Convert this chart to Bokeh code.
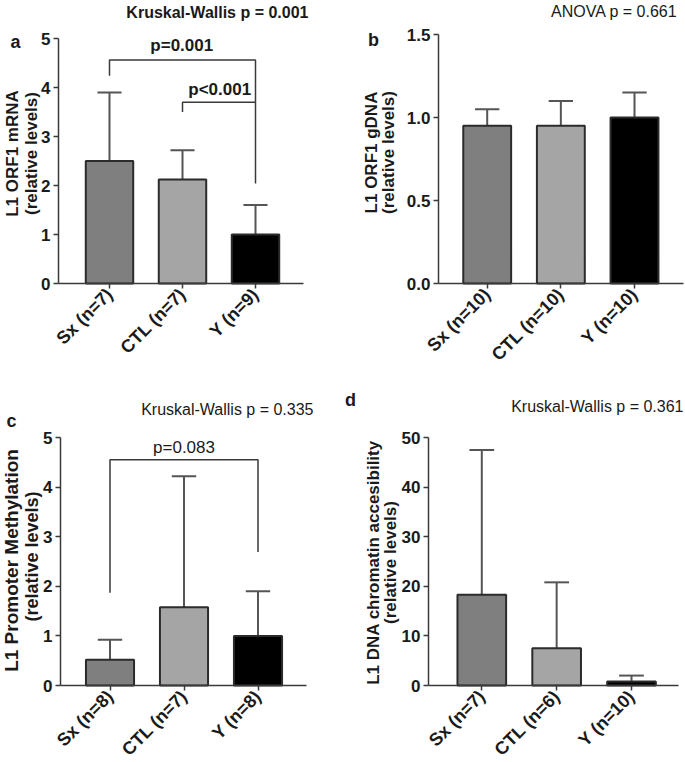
import math
from bokeh.plotting import figure
from bokeh.models import Range1d, FixedTicker, Label, ColumnDataSource, NumeralTickFormatter
from bokeh.layouts import column, row
from bokeh.embed import file_html
from bokeh.resources import INLINE

FONT = "Liberation Sans"
TXT = "#1a1a1a"
AXC = "#3a3a3a"
EDGE = "#2b2b2b"
ERRC = "#555555"
bar_colors = ["#7f7f7f", "#a5a5a5", "#000000"]

# ---- data ----
cats_a = ["Sx (n=7)", "CTL (n=7)", "Y (n=9)"]
mean_a = [2.5, 2.12, 1.0]
upper_a = [3.9, 2.72, 1.6]
brk_a_x = [[0, 0, 2, 2], [1, 1, 2]]
brk_a_y = [[4.24, 4.56, 4.56, 2.04], [3.5, 3.7, 3.7]]
ptxt_a = ["p=0.001", "p<0.001"]
ptxt_a_x = [0.99, 1.51]
ptxt_a_y = [4.86, 3.96]

cats_b = ["Sx (n=10)", "CTL (n=10)", "Y (n=10)"]
mean_b = [0.95, 0.95, 1.0]
upper_b = [1.05, 1.10, 1.15]

cats_c = ["Sx (n=8)", "CTL (n=7)", "Y (n=8)"]
mean_c = [0.52, 1.58, 1.0]
upper_c = [0.92, 4.22, 1.9]
brk_c_x = [[0, 0, 2, 2]]
brk_c_y = [[1.87, 4.55, 4.55, 2.69]]
ptxt_c = ["p=0.083"]
ptxt_c_x = [1.0]
ptxt_c_y = [4.79]

cats_d = ["Sx (n=7)", "CTL (n=6)", "Y (n=10)"]
mean_d = [18.3, 7.5, 0.8]
upper_d = [47.5, 20.8, 2.0]

yticks_a = [0, 1, 2, 3, 4, 5]
yticks_b = [0, 0.5, 1.0, 1.5]
yticks_c = [0, 1, 2, 3, 4, 5]
yticks_d = [0, 10, 20, 30, 40, 50]


class Panel:
    def __init__(self, box, axes_px, ticks_px, cats, means, uppers, yticks, fmt=None):
        ox, oy, w, h = box
        L, T, R, B = axes_px
        t0, t2 = ticks_px
        n = len(cats)
        ymax = yticks[-1]
        kx = (t2 - t0) / (n - 1)
        ky = (B - T) / ymax
        x_start = -(t0 - ox) / kx
        x_end = (n - 1) + (ox + w - t2) / kx
        xa0 = -(t0 - L) / kx
        xa1 = (n - 1) + (R - t2) / kx
        y_start = -(oy + h - B) / ky
        y_end = ymax + (T - oy) / ky
        self.box = box
        p = figure(width=w, height=h, x_range=Range1d(x_start, x_end),
                   y_range=Range1d(y_start, y_end), title=None,
                   output_backend="svg", toolbar_location=None, min_border=0)
        p.outline_line_color = None
        p.grid.visible = False
        p.background_fill_color = "white"
        p.border_fill_color = "white"
        xs = list(range(n))
        src = ColumnDataSource(dict(x=xs, top=means, up=uppers, color=bar_colors[:n],
                                    cl=[x - 0.165 for x in xs], cr=[x + 0.165 for x in xs]))
        p.segment(x0="x", y0="top", x1="x", y1="up", source=src, line_color=ERRC, line_width=2)
        p.segment(x0="cl", y0="up", x1="cr", y1="up", source=src, line_color=ERRC, line_width=2)
        p.vbar(x="x", top="top", width=0.65, bottom=0, fill_color="color", line_color=EDGE,
               line_width=2, source=src)
        for ax in (p.xaxis[0], p.yaxis[0]):
            ax.axis_line_color = AXC
            ax.axis_line_width = 1.5
            ax.major_tick_line_color = AXC
            ax.major_tick_line_width = 1.5
            ax.major_tick_out = 5
            ax.major_tick_in = 0
            ax.minor_tick_line_color = None
            ax.major_label_text_font = FONT
            ax.major_label_text_font_style = "bold"
            ax.major_label_text_font_size = "17px"
            ax.major_label_text_color = TXT
        p.xaxis.ticker = FixedTicker(ticks=xs)
        p.xaxis.major_label_overrides = {i: c for i, c in enumerate(cats)}
        p.xaxis.major_label_orientation = math.pi / 4
        p.xaxis.major_label_text_font_size = "18px"
        p.xaxis.major_label_standoff = 3
        p.xaxis.fixed_location = 0
        p.xaxis.bounds = (xa0, xa1)
        p.yaxis.ticker = FixedTicker(ticks=yticks)
        p.yaxis.major_label_standoff = 3
        p.yaxis.fixed_location = xa0
        p.yaxis.bounds = (0, ymax)
        if fmt:
            p.yaxis.formatter = NumeralTickFormatter(format=fmt)
        self.p = p

    def label(self, px, py, text, bold=True, size="16px", align="center", angle=0.0):
        ox, oy, w, h = self.box
        self.p.add_layout(Label(x=px - ox, y=oy + h - py, x_units="screen", y_units="screen",
                                text=text, text_font=FONT,
                                text_font_style="bold" if bold else "normal",
                                text_font_size=size, text_color=TXT, text_align=align,
                                text_baseline="middle", angle=angle))

    def data_text(self, xs, ys, texts, bold=True):
        for x, y, t in zip(xs, ys, texts):
            self.p.add_layout(Label(x=x, y=y, text=t, text_font=FONT,
                                    text_font_style="bold" if bold else "normal",
                                    text_font_size="17px", text_color=TXT, text_align="center",
                                    text_baseline="middle"))


A = Panel((0, 0, 340, 380), (58, 38, 303, 283), (109, 255), cats_a, mean_a, upper_a, yticks_a)
A.p.multi_line(xs=brk_a_x, ys=brk_a_y, line_color=AXC, line_width=1.5)
A.data_text(ptxt_a_x, ptxt_a_y, ptxt_a, bold=True)
A.label(15, 41, "a", size="18px")
A.label(308, 12, "Kruskal-Wallis p = 0.001", align="right")
A.label(12, 153, "L1 ORF1 mRNA", size="17px", angle=math.pi / 2)
A.label(31, 153, "(relative levels)", size="17px", angle=math.pi / 2)

Bp = Panel((340, 0, 345, 380), (438, 34, 683, 283), (486.7, 634), cats_b, mean_b, upper_b,
           yticks_b, fmt="0.0")
Bp.label(373, 39, "b", size="18px")
Bp.label(677, 11, "ANOVA p = 0.661", bold=False, align="right")
Bp.label(371, 152, "L1 ORF1 gDNA", size="17px", angle=math.pi / 2)
Bp.label(388, 152, "(relative levels)", size="17px", angle=math.pi / 2)

C = Panel((0, 380, 340, 382), (60, 437, 306, 685), (109.5, 257.5), cats_c, mean_c, upper_c,
          yticks_c)
C.p.multi_line(xs=brk_c_x, ys=brk_c_y, line_color=AXC, line_width=1.5)
C.data_text(ptxt_c_x, ptxt_c_y, ptxt_c, bold=False)
C.label(11, 420, "c", size="18px")
C.label(313, 409, "Kruskal-Wallis p = 0.335", bold=False, align="right")
C.label(11, 560, "L1 Promoter Methylation", size="19px", angle=math.pi / 2)
C.label(31, 556, "(relative levels)", size="18px", angle=math.pi / 2)

D = Panel((340, 380, 345, 382), (428, 437, 678, 685), (481.3, 631), cats_d, mean_d, upper_d,
          yticks_d)
D.label(350, 399, "d", size="18px")
D.label(683, 406, "Kruskal-Wallis p = 0.361", bold=False, align="right")
D.label(373, 562, "L1 DNA chromatin accesibility", size="17px", angle=math.pi / 2)
D.label(390, 562, "(relative levels)", size="17px", angle=math.pi / 2)

layout = column(row(A.p, Bp.p), row(C.p, D.p))
open("out.html", "w").write(file_html(layout, INLINE))
